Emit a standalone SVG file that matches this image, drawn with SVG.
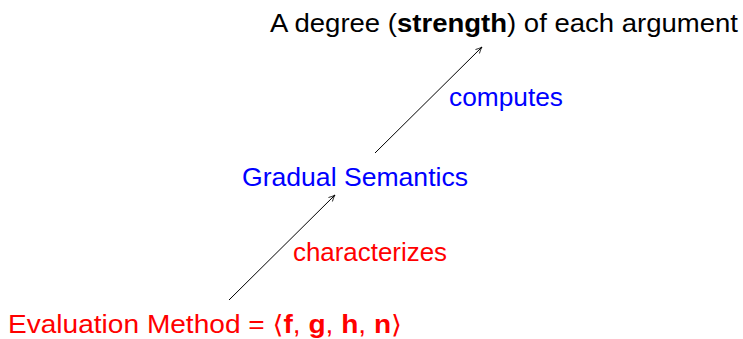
<svg xmlns="http://www.w3.org/2000/svg" width="743" height="339" viewBox="0 0 743 339">
<defs>
<marker id="arr" viewBox="0 0 10 10" refX="9" refY="5" markerWidth="8" markerHeight="8" orient="auto" markerUnits="userSpaceOnUse">
<path d="M1,1.5 Q5,4 9,5 Q5,6 1,8.5" fill="none" stroke="#000" stroke-width="1"/>
</marker>
<style>
text{font-family:"Liberation Sans","DejaVu Sans",sans-serif;font-size:25.5px}
.blue{fill:#0000ff}
.red{fill:#ff0000}
.edge{stroke:#000;stroke-width:1;fill:none;marker-end:url(#arr)}
</style>
</defs>
<rect width="743" height="339" fill="#fff"/>
<g id="degree">
<text x="270" y="32" textLength="468" lengthAdjust="spacingAndGlyphs">A degree (<tspan font-weight="bold">strength</tspan>) of each argument</text>
</g>
<g id="gradual">
<text class="blue" x="242" y="186" textLength="226" lengthAdjust="spacingAndGlyphs">Gradual Semantics</text>
</g>
<g id="evaluation">
<text class="red" x="8" y="333" textLength="394" lengthAdjust="spacingAndGlyphs">Evaluation Method = ⟨<tspan font-weight="bold">f</tspan>, <tspan font-weight="bold">g</tspan>, <tspan font-weight="bold">h</tspan>, <tspan font-weight="bold">n</tspan>⟩</text>
</g>
<g id="connectors">
<line class="edge" x1="229" y1="300" x2="335" y2="195"/>
<line class="edge" x1="375" y1="153" x2="482" y2="47"/>
<text class="red" x="293" y="261" textLength="154" lengthAdjust="spacingAndGlyphs">characterizes</text>
<text class="blue" x="449" y="106" textLength="114" lengthAdjust="spacingAndGlyphs">computes</text>
</g>
</svg>
